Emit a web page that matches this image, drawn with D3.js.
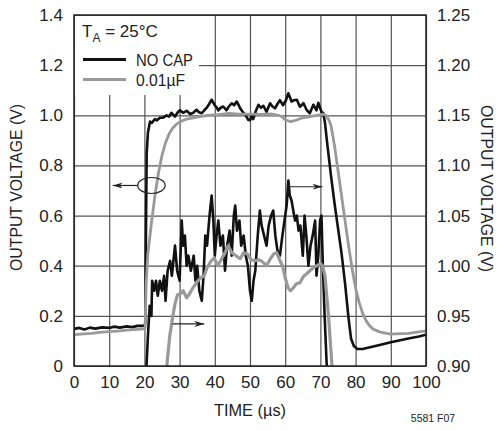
<!DOCTYPE html>
<html>
<head>
<meta charset="utf-8">
<script src="https://cdn.jsdelivr.net/npm/d3@7"></script>
<style>
  body { margin: 0; background: #fff; }
  svg text { font-family: "Liberation Sans Narrow", "Liberation Sans", Arial, sans-serif; fill: #222; }
  .grid line { stroke: #555; stroke-width: 1.2; }
  .grid path { display: none; }
  .axis path, .axis line { display: none; }
  .axis text { font-size: 17px; }
</style>
</head>
<body>
<div id="chart" style="width:499px;height:430px"></div>
<script>
// tick labels
const timeTicks = [0, 10, 20, 30, 40, 50, 60, 70, 80, 90, 100];
const leftTicks = [0, 0.2, 0.4, 0.6, 0.8, 1.0, 1.2, 1.4];
const rightTicks = [0.90, 0.95, 1.00, 1.05, 1.10, 1.15, 1.20, 1.25];

// NO CAP, left axis (time µs, volts)
const noCapMain = [
  [0, 0.148], [1.5, 0.152], [3, 0.146], [4.5, 0.153], [6, 0.149], [8, 0.154], [10, 0.152], [11.5, 0.157],
  [13, 0.153], [15, 0.158], [16.5, 0.155], [18, 0.16], [20, 0.160],
  [20.25, 0.17], [20.45, 0.55], [20.65, 0.85], [21.0, 0.93], [21.6, 0.975], [22.1, 0.97], [23.0, 0.985],
  [23.6, 0.98], [24.4, 0.99], [25.2, 0.99], [26.3, 1.0], [27.0, 0.995], [27.7, 1.01], [28.7, 0.995],
  [29.4, 1.01], [30.1, 1.02], [31.0, 1.01], [32.0, 1.018], [33.0, 1.005], [33.9, 1.01], [34.8, 1.022],
  [35.5, 1.012], [36.3, 1.008], [37.0, 1.02], [37.7, 1.03], [38.4, 1.045], [39.1, 1.062], [39.6, 1.05],
  [40.0, 1.04], [40.6, 1.03], [41.0, 1.02], [41.7, 1.03], [42.4, 1.035], [43.3, 1.02], [44.0, 1.035],
  [44.8, 1.048], [45.5, 1.04], [46.2, 1.055], [46.8, 1.04], [47.2, 1.028], [48.1, 1.01], [48.8, 1.0],
  [49.5, 0.982], [50.0, 0.98], [50.5, 1.0], [50.9, 0.985], [51.6, 1.015], [52.4, 1.042], [53.1, 1.03],
  [53.8, 1.038], [54.7, 1.014], [55.7, 1.048], [56.4, 1.035], [57.1, 1.028], [57.8, 1.045], [58.5, 1.06],
  [59.4, 1.04], [60.2, 1.06], [60.9, 1.088], [61.4, 1.07], [61.8, 1.055], [62.5, 1.06], [63.3, 1.062],
  [64.2, 1.034], [65.2, 1.048], [66.1, 1.021], [67.0, 1.008], [68.0, 1.042], [68.9, 1.02], [69.4, 1.05],
  [69.9, 1.03], [70.4, 1.01], [70.8, 1.01], [71.3, 0.97], [72.0, 0.88], [73.0, 0.76], [74.0, 0.65],
  [75.0, 0.55], [76.0, 0.45], [77.0, 0.33], [78.0, 0.19], [78.7, 0.11], [79.5, 0.08], [80.5, 0.068],
  [82.0, 0.068], [85.0, 0.078], [88.0, 0.088], [90.0, 0.095], [93.0, 0.104], [95.0, 0.11], [98.0, 0.118], [100, 0.125]
];

// 0.01µF, left axis
const capMain = [
  [0, 0.125], [3, 0.128], [5, 0.130], [8, 0.135], [10, 0.137], [13, 0.140], [15, 0.143], [18, 0.146], [20, 0.148],
  [20.2, 0.15], [20.5, 0.33], [21.0, 0.45], [22.0, 0.57], [23.0, 0.68], [24.0, 0.77], [25.0, 0.84],
  [26.0, 0.89], [27.0, 0.925], [28.0, 0.948], [29.0, 0.963], [30.0, 0.973], [32.0, 0.985], [35.0, 0.993],
  [38.0, 1.0], [41.0, 1.003], [44.0, 1.008], [47.0, 1.005], [50.0, 1.005], [53.0, 1.004], [56.0, 1.006],
  [58.0, 1.0], [59.0, 0.995], [60.0, 0.982], [61.4, 0.975], [63.0, 0.98], [65.0, 0.99], [67.0, 0.995],
  [69.0, 1.0], [70.8, 1.005], [71.5, 1.0], [72.3, 0.985], [73.0, 0.96], [74.0, 0.88], [75.0, 0.78],
  [76.0, 0.68], [77.0, 0.58], [78.0, 0.48], [79.0, 0.39], [80.0, 0.31], [81.0, 0.255], [82.0, 0.21],
  [83.0, 0.18], [84.0, 0.16], [85.0, 0.147], [87.0, 0.135], [90.0, 0.127], [95.0, 0.13], [100, 0.14]
];

// NO CAP, right axis (zoomed)
const noCapZoom = [
  [20.3, 0.85], [20.6, 0.90], [21.0, 0.93], [21.5, 0.96], [22.0, 0.95], [22.2, 0.985], [22.8, 0.975],
  [23.3, 0.985], [23.8, 0.97], [24.4, 0.985], [25.0, 0.975], [25.6, 0.99], [26.0, 0.965], [26.6, 0.995],
  [27.3, 1.005], [27.8, 0.99], [28.7, 1.02], [29.3, 0.995], [30.0, 0.985], [30.6, 1.045], [31.0, 1.02],
  [31.5, 1.03], [32.0, 1.0], [32.5, 1.01], [33.2, 0.995], [34.0, 1.01], [34.5, 0.985], [35.0, 1.0],
  [35.6, 0.975], [36.3, 0.965], [36.8, 0.99], [37.3, 1.03], [37.8, 1.02], [38.5, 1.05], [39.1, 1.07],
  [39.6, 1.045], [40.0, 1.01], [40.5, 1.03], [41.0, 1.045], [41.6, 1.02], [42.3, 1.03], [42.9, 0.995],
  [43.5, 1.02], [44.2, 1.035], [44.8, 1.01], [45.4, 1.05], [45.8, 1.06], [46.3, 1.035], [47.0, 1.045],
  [47.5, 1.02], [48.2, 1.03], [48.8, 1.01], [49.4, 1.0], [50.0, 0.975], [50.5, 0.965], [51.0, 0.985],
  [51.5, 0.995], [52.2, 1.03], [52.8, 1.055], [53.3, 1.04], [54.0, 1.03], [54.7, 1.02], [55.3, 1.04],
  [56.0, 1.05], [56.6, 1.055], [57.2, 1.03], [57.8, 1.015], [58.5, 1.01], [59.2, 1.03], [59.8, 1.045],
  [60.4, 1.06], [60.9, 1.085], [61.3, 1.07], [61.8, 1.065], [62.3, 1.055], [62.8, 1.045], [63.3, 1.05],
  [63.8, 1.035], [64.3, 1.04], [65.0, 1.01], [65.5, 1.05], [66.0, 1.03], [66.6, 1.0], [67.2, 1.02],
  [67.8, 1.03], [68.5, 1.045], [68.9, 0.99], [69.4, 1.01], [69.9, 1.045], [70.3, 1.05], [70.7, 1.0],
  [71.2, 0.95], [71.8, 0.90], [72.2, 0.86]
];

// 0.01µF, right axis (zoomed)
const capZoom = [
  [26.0, 0.88], [26.5, 0.905], [27.2, 0.93], [28.0, 0.948], [28.7, 0.962], [29.4, 0.971], [30.2, 0.972],
  [31.0, 0.975], [32.0, 0.968], [32.8, 0.972], [33.8, 0.978], [35.0, 0.984], [36.0, 0.988], [37.0, 0.99],
  [37.8, 0.998], [38.8, 1.004], [39.8, 1.008], [40.8, 1.0], [41.8, 1.006], [42.8, 1.012], [43.8, 1.02],
  [44.8, 1.013], [46.0, 1.01], [47.2, 1.007], [48.2, 1.013], [49.2, 1.012], [50.3, 1.006], [51.5, 1.005],
  [52.5, 1.006], [53.5, 1.004], [54.7, 1.0], [55.8, 1.007], [56.8, 1.012], [57.6, 1.013], [58.4, 1.006],
  [59.2, 1.0], [60.0, 0.988], [60.8, 0.978], [61.5, 0.975], [62.3, 0.978], [63.2, 0.982], [64.2, 0.983],
  [65.1, 0.989], [66.1, 0.992], [67.0, 0.995], [68.0, 0.998], [69.0, 1.0], [70.0, 1.002], [70.6, 1.0],
  [71.3, 0.99], [71.8, 0.97], [72.3, 0.95], [72.8, 0.925], [73.3, 0.9], [73.6, 0.88]
];

const margin = {top: 15, right: 73, bottom: 64, left: 74};
const fullW = 499, fullH = 430;
const width = fullW - margin.left - margin.right;
const height = fullH - margin.top - margin.bottom;

const svg = d3.select("#chart").append("svg")
    .attr("width", fullW)
    .attr("height", fullH)
    .append("g")
    .attr("transform", `translate(${margin.left}, ${margin.top})`);

const x = d3.scaleLinear().domain([0, 100]).range([0, width]);
const yL = d3.scaleLinear().domain([0, 1.4]).range([height, 0]);
const yR = d3.scaleLinear().domain([0.9, 1.25]).range([height, 0]);

// grid
svg.append("g")
    .attr("class", "grid")
    .attr("transform", `translate(0, ${height})`)
    .call(d3.axisBottom(x).tickValues(timeTicks).tickSize(-height).tickFormat(""));
svg.append("g")
    .attr("class", "grid")
    .call(d3.axisLeft(yL).tickValues(leftTicks).tickSize(-width).tickFormat(""));

// white legend box hides grid behind it
svg.append("rect")
    .attr("x", 1).attr("y", 1)
    .attr("width", 124).attr("height", 79)
    .attr("fill", "#fff");

// axes labels
svg.append("g")
    .attr("class", "axis")
    .attr("transform", `translate(0, ${height})`)
    .call(d3.axisBottom(x).tickValues(timeTicks).tickSize(0).tickPadding(10));
svg.append("g")
    .attr("class", "axis")
    .call(d3.axisLeft(yL).tickValues(leftTicks).tickSize(0).tickPadding(11)
        .tickFormat(d => d === 0 ? "0" : d3.format(".1f")(d)));
svg.append("g")
    .attr("class", "axis")
    .attr("transform", `translate(${width}, 0)`)
    .call(d3.axisRight(yR).tickValues(rightTicks).tickSize(0).tickPadding(11)
        .tickFormat(d3.format(".2f")));

// traces
svg.append("clipPath").attr("id", "plot-clip")
    .append("rect").attr("width", width).attr("height", height);
const plot = svg.append("g").attr("clip-path", "url(#plot-clip)");

const lineL = d3.line().x(d => x(d[0])).y(d => yL(d[1]));
const lineR = d3.line().x(d => x(d[0])).y(d => yR(d[1]));

const traces = [
  {data: noCapMain, line: lineL, color: "#111", w: 2.6},
  {data: noCapZoom, line: lineR, color: "#111", w: 2.6},
  {data: capMain, line: lineL, color: "#999", w: 2.8},
  {data: capZoom, line: lineR, color: "#999", w: 3.2}
];
plot.selectAll(".trace")
    .data(traces)
    .enter()
    .append("path")
    .attr("class", "trace")
    .attr("d", d => d.line(d.data))
    .attr("fill", "none")
    .attr("stroke", d => d.color)
    .attr("stroke-width", d => d.w)
    .attr("stroke-linejoin", "round");

// frame
svg.append("rect")
    .attr("width", width).attr("height", height)
    .attr("fill", "none").attr("stroke", "#222").attr("stroke-width", 1.5);

// legend
const ta = svg.append("text").attr("x", 8).attr("y", 22).attr("font-size", 17);
ta.append("tspan").text("T");
ta.append("tspan").attr("font-size", 12).attr("dy", 5).text("A");
ta.append("tspan").attr("dy", -5).text(" = 25°C");

const legend = [
  {name: "NO CAP", color: "#111"},
  {name: "0.01µF", color: "#999"}
];
legend.forEach((d, i) => {
    const yy = 44.5 + i * 20;
    svg.append("line")
        .attr("x1", 9).attr("x2", 52)
        .attr("y1", yy).attr("y2", yy)
        .attr("stroke", d.color).attr("stroke-width", 3);
    svg.append("text")
        .attr("x", 62).attr("y", yy + 6.5)
        .attr("font-size", 17)
        .attr("textLength", i === 0 ? 57 : 49)
        .attr("lengthAdjust", "spacingAndGlyphs")
        .text(d.name);
});

// arrows + ellipse
const defs = svg.append("defs");
defs.append("marker")
    .attr("id", "arr")
    .attr("viewBox", "0 0 10 6")
    .attr("refX", 10).attr("refY", 3)
    .attr("markerWidth", 10).attr("markerHeight", 6)
    .attr("markerUnits", "userSpaceOnUse")
    .attr("orient", "auto")
    .append("path").attr("d", "M0,0L10,3L0,6L3,3Z").attr("fill", "#222");

svg.append("ellipse")
    .attr("cx", x(22)).attr("cy", yL(0.72))
    .attr("rx", 13.7).attr("ry", 8)
    .attr("fill", "none").attr("stroke", "#222").attr("stroke-width", 1.2);

const arrows = [
  [x(18.2), yL(0.72), x(11), yL(0.72)],
  [x(61), yL(0.715), x(70.6), yL(0.715)],
  [x(28), yL(0.168), x(37), yL(0.168)]
];
arrows.forEach(a => {
    svg.append("line")
        .attr("x1", a[0]).attr("y1", a[1]).attr("x2", a[2]).attr("y2", a[3])
        .attr("stroke", "#222").attr("stroke-width", 1.2)
        .attr("marker-end", "url(#arr)");
});

// axis titles
svg.append("text")
    .attr("transform", `translate(${-52}, ${height / 2 - 3}) rotate(-90)`)
    .attr("text-anchor", "middle")
    .attr("font-size", 17)
    .attr("textLength", 167)
    .attr("lengthAdjust", "spacingAndGlyphs")
    .text("OUTPUT VOLTAGE (V)");
svg.append("text")
    .attr("transform", `translate(${width + 55}, ${height / 2 - 2}) rotate(90)`)
    .attr("text-anchor", "middle")
    .attr("font-size", 17)
    .attr("textLength", 167)
    .attr("lengthAdjust", "spacingAndGlyphs")
    .text("OUTPUT VOLTAGE (V)");
svg.append("text")
    .attr("x", width / 2).attr("y", height + 50)
    .attr("text-anchor", "middle")
    .attr("font-size", 17)
    .attr("textLength", 72)
    .attr("lengthAdjust", "spacingAndGlyphs")
    .text("TIME (µs)");
svg.append("text")
    .attr("x", width + 7).attr("y", height + 56)
    .attr("text-anchor", "middle")
    .attr("font-size", 10.5)
    .text("5581 F07");
</script>
</body>
</html>
